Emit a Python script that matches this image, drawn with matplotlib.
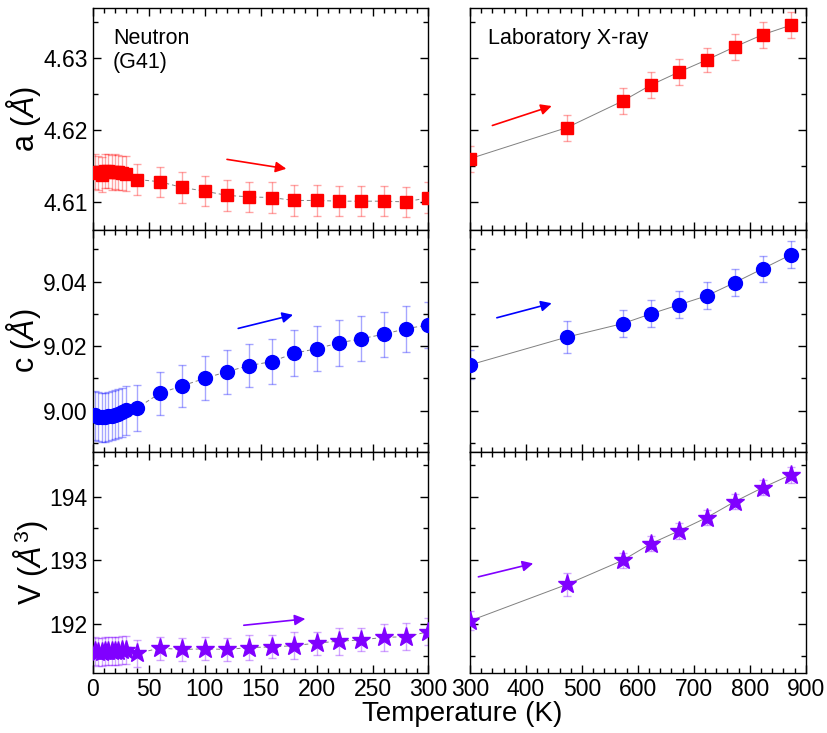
import numpy as np
import matplotlib
matplotlib.use('Agg')
import matplotlib.pyplot as plt
from matplotlib.ticker import MultipleLocator

plt.rcParams['font.family'] = ['Liberation Sans', 'DejaVu Sans']
plt.rcParams['mathtext.fontset'] = 'custom'
plt.rcParams['mathtext.rm'] = 'Liberation Sans'
plt.rcParams['mathtext.it'] = 'Liberation Sans:italic'

# neutron (G41), 0-300 K
T_n = [2, 5, 8, 11, 14, 17, 20, 23, 26, 30,
       40, 60, 80, 100, 120, 140, 160, 180, 200, 220, 240, 260, 280, 300]
a_n = [4.6142, 4.6140, 4.6138, 4.6143, 4.6143, 4.6141, 4.6142, 4.6141, 4.6140, 4.6139,
       4.6131, 4.6128, 4.6120, 4.6115, 4.6109, 4.6107, 4.6106, 4.6102, 4.6102, 4.6101,
       4.6101, 4.6101, 4.6100, 4.6106]
a_n_err = [0.0024] * 10 + [0.0021, 0.0021, 0.0021, 0.0021, 0.0021, 0.0021, 0.0021,
                           0.0021, 0.0021, 0.0021, 0.0021, 0.0021, 0.0021, 0.0021]
c_n = [8.9986, 8.9981, 8.9979, 8.9980, 8.9982, 8.9985, 8.9988, 8.9990, 8.9995, 9.0002,
       9.0009, 9.0054, 9.0077, 9.0100, 9.0121, 9.0140, 9.0152, 9.0178, 9.0192, 9.0210,
       9.0223, 9.0237, 9.0254, 9.0266]
c_n_err = [0.0076] * 10 + [0.0072, 0.0066, 0.0066, 0.0068, 0.0068, 0.0068, 0.0070,
                           0.0072, 0.0070, 0.0072, 0.0070, 0.0070, 0.0072, 0.0072]
V_n = [191.57, 191.56, 191.56, 191.57, 191.57, 191.58, 191.58, 191.58, 191.59, 191.59,
       191.54, 191.62, 191.60, 191.61, 191.60, 191.63, 191.64, 191.66, 191.70, 191.73,
       191.75, 191.79, 191.80, 191.88]
V_n_err = [0.22] * 10 + [0.21, 0.18, 0.18, 0.18, 0.18, 0.20, 0.18,
                         0.21, 0.18, 0.21, 0.18, 0.21, 0.21, 0.21]

# laboratory X-ray, 300-900 K
T_x = [300, 473, 573, 623, 673, 723, 773, 823, 873]
a_x = [4.6160, 4.6203, 4.6240, 4.6262, 4.6280, 4.6297, 4.6315, 4.6332, 4.6345]
a_x_err = [0.0018, 0.0018, 0.0018, 0.0018, 0.0018, 0.0017, 0.0018, 0.0018, 0.0018]
c_x = [9.0142, 9.0228, 9.0270, 9.0300, 9.0328, 9.0356, 9.0397, 9.0440, 9.0483]
c_x_err = [0.0045, 0.0049, 0.0042, 0.0042, 0.0042, 0.0042, 0.0042, 0.0040, 0.0042]
V_x = [192.05, 192.62, 193.00, 193.26, 193.46, 193.67, 193.92, 194.14, 194.34]
V_x_err = [0.15, 0.18, 0.12, 0.12, 0.12, 0.12, 0.12, 0.12, 0.12]

rows = [
    dict(yn=a_n, en=a_n_err, yx=a_x, ex=a_x_err, color='#ff0000', marker='s', ms=9,
         ylim=(4.6061, 4.6369), major=0.01, minor=0.005, fmt='%.2f',
         label='a ($\\mathit{Å}$)',
         arr_n=((120, 4.6159), (173, 4.6146)), arr_x=((340, 4.6206), (446, 4.6233))),
    dict(yn=c_n, en=c_n_err, yx=c_x, ex=c_x_err, color='#0000ff', marker='o', ms=10,
         ylim=(8.9872, 9.056), major=0.02, minor=0.01, fmt='%.2f',
         label='c ($\\mathit{Å}$)',
         arr_n=((130, 9.0255), (179, 9.0297)), arr_x=((348, 9.0288), (446, 9.0333))),
    dict(yn=V_n, en=V_n_err, yx=V_x, ex=V_x_err, color='#8000ff', marker='*', ms=14,
         ylim=(191.23, 194.70), major=1, minor=0.5, fmt='%d',
         label='V ($\\mathit{Å}^3$)',
         arr_n=((135, 191.98), (190, 192.08)), arr_x=((315, 192.74), (413, 192.95))),
]

fig = plt.figure(figsize=(8.27, 7.33), dpi=100)
edges = [0.9891, 0.6862, 0.3834, 0.0818]
lx, rx, w = 0.1121, 0.5683, 0.406

for i, r in enumerate(rows):
    bottom = edges[i + 1]
    h = edges[i] - edges[i + 1]
    axl = fig.add_axes([lx, bottom, w, h])
    axr = fig.add_axes([rx, bottom, w, h])
    for ax, T, y, e, ls in [(axl, T_n, r['yn'], r['en'], (0, (4, 3))),
                            (axr, T_x, r['yx'], r['ex'], '-')]:
        ax.plot(T, y, color='gray', lw=0.7, ls=ls, zorder=1)
        ax.errorbar(T, y, yerr=e, fmt='none', ecolor=r['color'], alpha=0.35,
                    elinewidth=1, capsize=3, capthick=1, zorder=2)
        ax.plot(T, y, ls='none', marker=r['marker'], ms=r['ms'], color=r['color'],
                mec=r['color'], zorder=3, clip_on=True)
        ax.set_ylim(*r['ylim'])
        ax.yaxis.set_major_locator(MultipleLocator(r['major']))
        ax.yaxis.set_minor_locator(MultipleLocator(r['minor']))
        ax.tick_params(which='both', direction='in', top=True, right=True, labelsize=16.5)
        ax.tick_params(which='major', length=6, width=1)
        ax.tick_params(which='minor', length=3.5, width=1)
        for s in ax.spines.values():
            s.set_linewidth(1)
    axl.set_xlim(0, 300)
    axl.xaxis.set_major_locator(MultipleLocator(50))
    axl.xaxis.set_minor_locator(MultipleLocator(10))
    axr.set_xlim(300, 900)
    axr.xaxis.set_major_locator(MultipleLocator(100))
    axr.xaxis.set_minor_locator(MultipleLocator(20))
    axl.yaxis.set_major_formatter(matplotlib.ticker.FormatStrFormatter(r['fmt']))
    axr.tick_params(labelleft=False)
    axl.set_ylabel(r['label'], fontsize=22, labelpad=0)
    if i < 2:
        axl.tick_params(labelbottom=False)
        axr.tick_params(labelbottom=False)
    for ax, arr in [(axl, r['arr_n']), (axr, r['arr_x'])]:
        ax.annotate('', xy=arr[1], xytext=arr[0],
                    arrowprops=dict(arrowstyle='-|>', color=r['color'], lw=1.2,
                                    mutation_scale=16, shrinkA=0, shrinkB=0))
    if i == 0:
        axl.text(0.06, 0.91, 'Neutron\n(G41)', transform=axl.transAxes,
                 fontsize=15.5, va='top', ha='left', linespacing=1.2)
        axr.text(0.055, 0.91, 'Laboratory X-ray', transform=axr.transAxes,
                 fontsize=15.5, va='top', ha='left')

fig.text(0.559, 0.008, 'Temperature (K)', fontsize=20, ha='center', va='bottom')
fig.savefig('out.png', dpi=100)
